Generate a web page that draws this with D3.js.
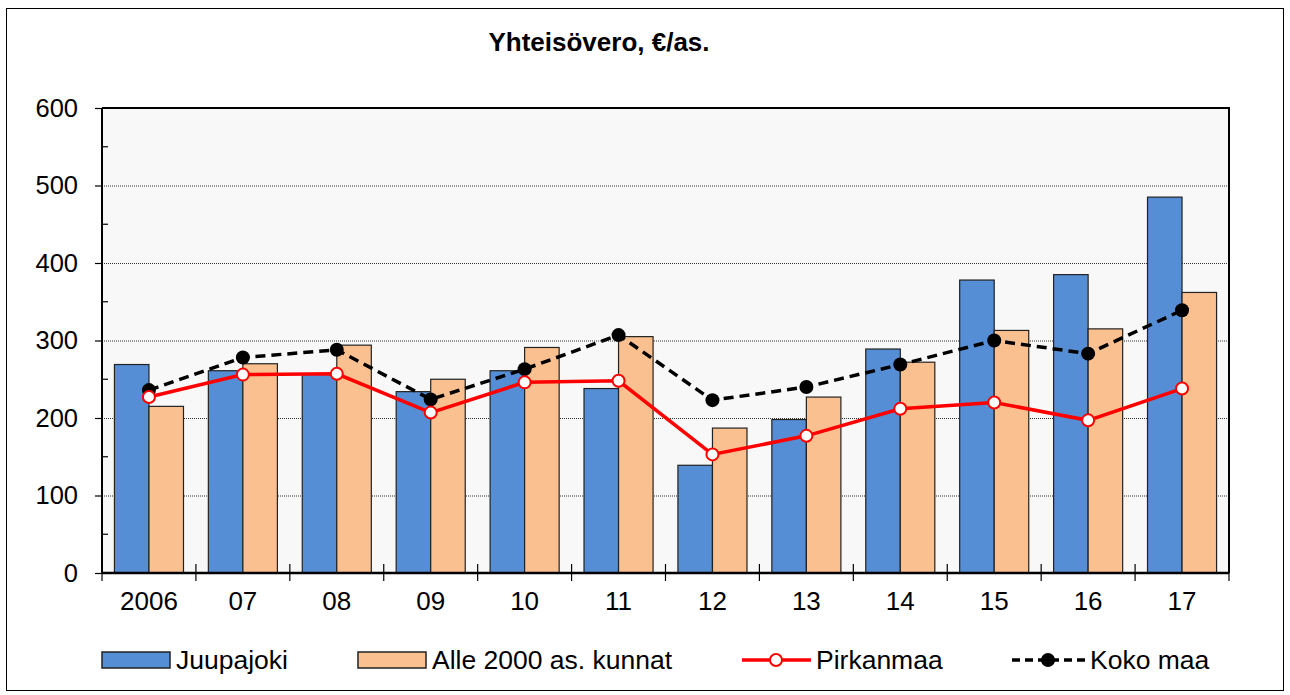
<!DOCTYPE html>
<html><head><meta charset="utf-8">
<script src="https://cdn.jsdelivr.net/npm/d3@7"></script>
<style>body{margin:0;background:#fff}svg{display:block}text{font-family:Arial,"Liberation Sans",sans-serif}</style>
</head><body>
<svg id="c" width="1290" height="695"></svg>
<script>
const categories = ["2006","07","08","09","10","11","12","13","14","15","16","17"];
const juupajoki = [269,261,257,234,261,238,139,198,289,378,385,485];
const alle2000 = [215,270,294,250,291,305,187,227,272,313,315,362];
const pirkanmaa = [227,256,257,207,246,248,153,177,212,220,197,238];
const kokoMaa = [236,278,288,224,263,307,223,240,269,300,283,339];
const yTicks = [0,100,200,300,400,500,600];
const seriesNames = ["Juupajoki","Alle 2000 as. kunnat","Pirkanmaa","Koko maa"];

const svg = d3.select("#c");
const L=102, R=1229, T=108, B=573;
svg.append("rect").attr("x",6.5).attr("y",8.5).attr("width",1277).attr("height",682)
  .attr("fill","#fff").attr("stroke","#000").attr("stroke-width",1);

const x = d3.scaleBand().domain(categories).range([L,R]).paddingInner(0).paddingOuter(0);
const xi = d3.scaleBand().domain([0,1]).range([0,x.bandwidth()]).paddingInner(0).paddingOuter(0.36);
const y = d3.scaleLinear().domain([0,600]).range([B,T]);

svg.append("rect").attr("x",L).attr("y",T).attr("width",R-L).attr("height",B-T).attr("fill","#f8f8f8");
// grid
svg.append("g").selectAll("line").data(yTicks.filter(d=>d>0&&d<600)).join("line")
  .attr("x1",L).attr("x2",R).attr("y1",d=>y(d)+0.5).attr("y2",d=>y(d)+0.5)
  .attr("stroke","#333").attr("stroke-width",1).attr("stroke-dasharray","1,1");
// border top/right
svg.append("path").attr("d",`M${L},${T}H${R}V${B}`).attr("fill","none").attr("stroke","#000").attr("stroke-width",2);

// bars
const g = svg.append("g");
categories.forEach((c,i)=>{
  [[juupajoki[i],"#558ed5"],[alle2000[i],"#fac090"]].forEach(([v,col],k)=>{
    g.append("rect").attr("x",x(c)+xi(k)).attr("y",y(v)).attr("width",xi.bandwidth()).attr("height",y(0)-y(v))
      .attr("fill",col).attr("stroke","#222").attr("stroke-width",1.2);
  });
});

// y axis
const ya = svg.append("g").attr("transform",`translate(${L},0)`)
  .call(d3.axisLeft(y).tickValues(yTicks).tickSize(7).tickPadding(17).tickFormat(d3.format("d")));
ya.select(".domain").remove();
ya.selectAll("line").attr("stroke","#000").attr("stroke-width",1.2);
ya.selectAll("text").attr("font-size",25.5).attr("fill","#000").attr("font-family","Arial, 'Liberation Sans', sans-serif");
svg.append("g").selectAll("line").data(d3.range(50,600,100)).join("line")
  .attr("x1",L).attr("x2",L+6).attr("y1",d=>y(d)).attr("y2",d=>y(d)).attr("stroke","#000").attr("stroke-width",1.2);
svg.append("line").attr("x1",L).attr("x2",L).attr("y1",T).attr("y2",B).attr("stroke","#000").attr("stroke-width",2);

// x axis
svg.append("line").attr("x1",L).attr("x2",R).attr("y1",B).attr("y2",B).attr("stroke","#000").attr("stroke-width",2.5);
svg.append("g").selectAll("line").data(categories.concat(["end"])).join("line")
  .attr("x1",(d,i)=>L+i*x.step()).attr("x2",(d,i)=>L+i*x.step())
  .attr("y1",(d,i)=>(i===0||i===12)?B:B-9).attr("y2",B+8).attr("stroke","#000").attr("stroke-width",1.2);
svg.append("g").selectAll("text").data(categories).join("text")
  .attr("x",d=>x(d)+x.bandwidth()/2).attr("y",610).attr("text-anchor","middle")
  .attr("font-size",26).text(d=>d);

// lines
const cx = c => x(c)+x.bandwidth()/2;
const line = d3.line().x(d=>cx(d[0])).y(d=>y(d[1]));
const kData = categories.map((c,i)=>[c,kokoMaa[i]]);
const pData = categories.map((c,i)=>[c,pirkanmaa[i]]);
svg.append("path").datum(kData).attr("d",line).attr("fill","none").attr("stroke","#000").attr("stroke-width",3.5).attr("stroke-dasharray","10,6");
svg.append("path").datum(pData).attr("d",line).attr("fill","none").attr("stroke","#ff0000").attr("stroke-width",3.5);
svg.append("g").selectAll("circle").data(kData).join("circle")
  .attr("cx",d=>cx(d[0])).attr("cy",d=>y(d[1])).attr("r",7).attr("fill","#000");
svg.append("g").selectAll("circle").data(pData).join("circle")
  .attr("cx",d=>cx(d[0])).attr("cy",d=>y(d[1])).attr("r",6).attr("fill","#fff").attr("stroke","#ff0000").attr("stroke-width",2);

// title
svg.append("text").attr("x",599).attr("y",51).attr("text-anchor","middle").attr("font-size",26).attr("font-weight","bold").text("Yhteisövero, €/as.");

// legend
const ly = 660;
const lg = svg.append("g");
[[102,"#558ed5"],[358,"#fac090"]].forEach(([lx,col])=>{
  lg.append("rect").attr("x",lx).attr("y",ly-8).attr("width",68).attr("height",16).attr("fill",col).attr("stroke","#222").attr("stroke-width",1.5);
});
lg.append("line").attr("x1",742).attr("x2",811).attr("y1",ly).attr("y2",ly).attr("stroke","#ff0000").attr("stroke-width",3.5);
lg.append("circle").attr("cx",776).attr("cy",ly).attr("r",6).attr("fill","#fff").attr("stroke","#ff0000").attr("stroke-width",2);
lg.append("line").attr("x1",1012).attr("x2",1085).attr("y1",ly).attr("y2",ly).attr("stroke","#000").attr("stroke-width",3.5).attr("stroke-dasharray","8,5");
lg.append("circle").attr("cx",1048).attr("cy",ly).attr("r",7).attr("fill","#000");
[[176,seriesNames[0]],[432,seriesNames[1]],[816,seriesNames[2]],[1090,seriesNames[3]]].forEach(([lx,t])=>{
  lg.append("text").attr("x",lx).attr("y",ly+9).attr("font-size",26.5).text(t);
});
</script>
</body></html>
